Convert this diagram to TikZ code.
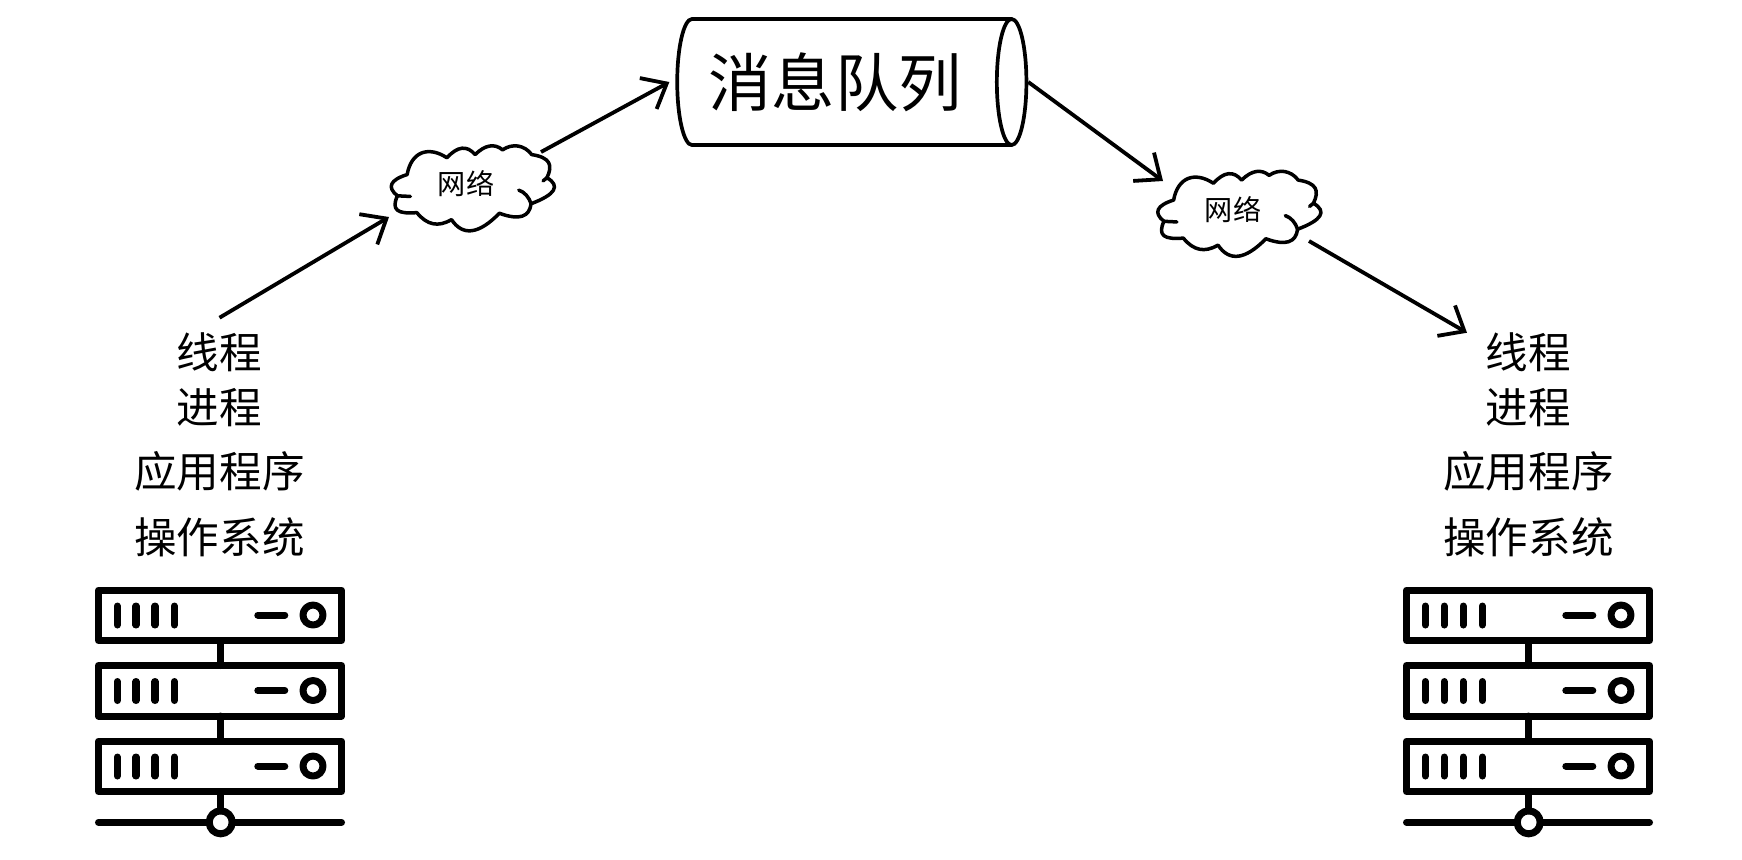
\documentclass[tikz,border=0pt]{standalone}
\usepackage{fontspec}
\setmainfont{Noto Sans CJK SC}
\usetikzlibrary{shapes.geometric,arrows.meta}

\tikzset{
    pics/serverrack/.style={code={
        % three units
        \foreach \top in {0,75.5,151}{
            \draw[rackline] (-122.2,\top) rectangle (120.8,\top+50.5);
            \foreach \barx in {-103.4,-84.7,-65.7,-46.4}
                \draw[rackline] (\barx,\top+16) -- (\barx,\top+35);
            \draw[rackline] (37.1,\top+25) -- (64.1,\top+25);
            \draw[rackline] (92.3,\top+25) circle[radius=10];
        }
        % links and bus
        \draw[rackline] (0,50.5) -- (0,75.5);
        \draw[rackline] (0,126) -- (0,151);
        \draw[rackline] (0,201.5) -- (0,221);
        \draw[rackline] (-122.2,232.3) -- (-11.5,232.3);
        \draw[rackline] (11.5,232.3) -- (120.8,232.3);
        \draw[rackline] (0,232.3) circle[radius=11.5];
    }},
    % outline in thirds of a pixel
    pics/netcloud/.style={code={
        \begin{scope}[x=0.0097cm/3, y=-0.0095cm/3, shift={(-297,-192)}]
        \draw[cloudline] (95,148) .. controls (42,165) and (32,188) .. (65,215)
            .. controls (45,260) and (65,273) .. (125,268)
            .. controls (156,307) and (191,315) .. (232,290)
            .. controls (267,343) and (316,337) .. (380,270)
            .. controls (441,293) and (473,282) .. (478,240)
            .. controls (553,211) and (570,184) .. (527,158)
            .. controls (546,118) and (537,94) .. (480,85)
            .. controls (457,54) and (420,49) .. (390,70)
            .. controls (365,49) and (336,54) .. (305,85)
            .. controls (280,55) and (251,58) .. (218,95)
            .. controls (161,57) and (108,75) .. cycle;
        \draw[cloudline] (65,215) -- (105,217);
        \draw[cloudline] (440,197) .. controls (458,203) and (472,220) .. (478,240);
        \draw[cloudline] (527,158) -- (515,168);
        \end{scope}
    }}
}

\begin{document}
\begin{tikzpicture}[
    x=0.01cm, y=-0.01cm,
    rackline/.style={line width=0.07cm, line cap=round, line join=round},
    cloudline/.style={line width=0.035cm, line cap=round, line join=round},
    layer/.style={font=\fontsize{12.1}{14}\selectfont, inner sep=0pt},
    netlabel/.style={font=\fontsize{8}{10}\selectfont, inner sep=0pt},
    queue/.style={cylinder, draw, line width=0.037cm, shape aspect=0.5, minimum width=1.26cm, minimum height=3.49cm, inner sep=0pt, font=\fontsize{18}{20}\selectfont},
    arrow/.style={line width=0.038cm, -{Straight Barb[length=6pt, width=10pt, line width=0.038cm]}}
]
\useasboundingbox (0,0) rectangle (1742,859);

% Message queue
\node[queue] (queue) at (843.5,82) {\raisebox{-3pt}{消息队列}\kern0.17cm};

% Network clouds
\pic at (472.5,188.5) {netcloud};
\pic at (1239,214) {netcloud};
\node[netlabel] (netin) at (466,184) {网络};
\node[netlabel] (netout) at (1233,210) {网络};

% Left host
\node[layer] (threadl) at (219.5,352) {线程};
\node[layer] (processl) at (219.5,408) {进程};
\node[layer] (appl) at (219.5,471) {应用程序};
\node[layer] (osl) at (219.5,537) {操作系统};
\pic at (220.7,590) {serverrack};

% Right host
\node[layer] (threadr) at (1528.5,352) {线程};
\node[layer] (processr) at (1528.5,408) {进程};
\node[layer] (appr) at (1528.5,471) {应用程序};
\node[layer] (osr) at (1528.5,537) {操作系统};
\pic at (1528.7,590) {serverrack};

% Connections
\draw[arrow] ([yshift=0.14cm]threadl.north) -- ([shift={(-77,33)}]netin.center);
\draw[arrow] ([shift={(75,-32)}]netin.center) -- ([xshift=-0.06cm]queue.west);
\draw[arrow] (queue.east) -- ([shift={(-70,-29)}]netout.center);
\draw[arrow] ([shift={(76,31)}]netout.center) -- ([shift={(-61.5,1)}]threadr.north);

\end{tikzpicture}
\end{document}
